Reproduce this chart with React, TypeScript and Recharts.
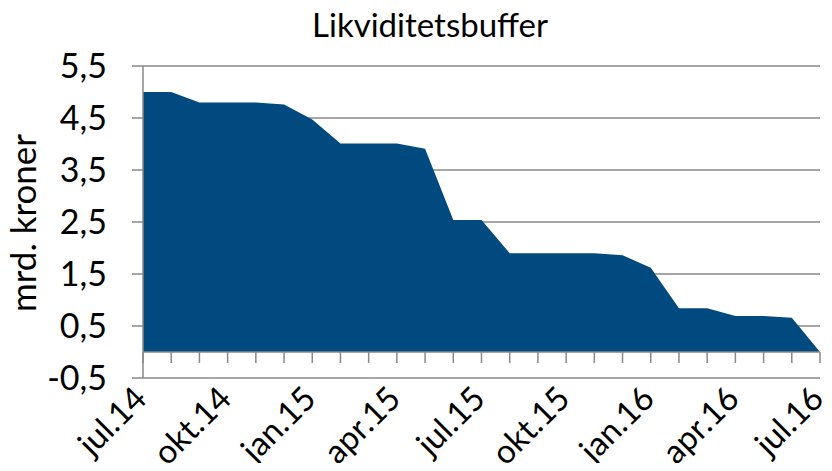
import React from "react";
import {
  AreaChart,
  Area,
  XAxis,
  YAxis,
  CartesianGrid,
  ReferenceLine,
} from "recharts";

const months = [
  "jul.14", "aug.14", "sep.14", "okt.14", "nov.14", "des.14",
  "jan.15", "feb.15", "mar.15", "apr.15", "mai.15", "jun.15",
  "jul.15", "aug.15", "sep.15", "okt.15", "nov.15", "des.15",
  "jan.16", "feb.16", "mar.16", "apr.16", "mai.16", "jun.16",
  "jul.16",
];

const buffer = [
  5.0, 5.0, 4.8, 4.8, 4.8, 4.76, 4.47, 4.01, 4.01, 4.01, 3.91, 2.54,
  2.54, 1.9, 1.9, 1.9, 1.9, 1.86, 1.62, 0.84, 0.84, 0.69, 0.69, 0.66, 0.0,
];

const yTicks = [-0.5, 0.5, 1.5, 2.5, 3.5, 4.5, 5.5];

const data = months.map((m, i) => ({ month: m, value: buffer[i] }));

const FONT = "Lato, 'Open Sans', sans-serif";
const GRID = "#898989";
const FILL = "#004a80";

function formatComma(v: number) {
  return String(v).replace(".", ",");
}

function MonthTick(props: any) {
  const { x, y, index, payload } = props;
  if (index % 3 !== 0) return null;
  return (
    <text
      x={x}
      y={y}
      dx={-12}
      dy={20}
      transform={`rotate(-45, ${x}, ${y})`}
      textAnchor="end"
      fontSize={33}
      fontFamily={FONT}
      fill="#000"
    >
      {payload.value}
    </text>
  );
}

export default function App() {
  return (
    <div style={{ position: "relative", width: 832, height: 471, margin: -8, background: "#fff" }}>
      <div
        style={{
          position: "absolute",
          left: 0,
          width: 860,
          top: 4,
          textAlign: "center",
          fontFamily: FONT,
          fontSize: 33,
          color: "#000",
        }}
      >
        Likviditetsbuffer
      </div>
      <div
        style={{
          position: "absolute",
          left: 22,
          top: 223,
          transform: "translate(-50%, -50%) rotate(-90deg)",
          whiteSpace: "nowrap",
          fontFamily: FONT,
          fontSize: 35,
          color: "#000",
        }}
      >
        mrd. kroner
      </div>
      <div style={{ position: "absolute", left: 0, top: 0 }}>
        <AreaChart
          width={832}
          height={471}
          data={data}
          margin={{ top: 66, right: 12, left: 0, bottom: 13 }}
        >
          <CartesianGrid vertical={false} stroke={GRID} strokeWidth={1.5} />
          <XAxis
            dataKey="month"
            interval={0}
            axisLine={false}
            tickLine={false}
            tickSize={0}
            tickMargin={0}
            height={80}
            tick={<MonthTick />}
            padding={{ left: 0, right: 0 }}
          />
          <YAxis
            domain={[-0.5, 5.5]}
            ticks={yTicks}
            interval={0}
            width={143}
            tickFormatter={formatComma}
            tick={{ fontSize: 34, fontFamily: FONT, fill: "#000" }}
            tickSize={11}
            tickMargin={25}
            axisLine={{ stroke: GRID, strokeWidth: 1.5 }}
            tickLine={{ stroke: GRID, strokeWidth: 1.5 }}
            allowDataOverflow
          />
          <Area
            type="linear"
            dataKey="value"
            stroke="none"
            fill={FILL}
            fillOpacity={1}
            isAnimationActive={false}
          />
          <ReferenceLine y={0} stroke={GRID} strokeWidth={1.5} />
          {months.map((m) => (
            <ReferenceLine
              key={m}
              segment={[
                { x: m, y: 0 },
                { x: m, y: -0.21 },
              ]}
              stroke={GRID}
              strokeWidth={1.5}
            />
          ))}
        </AreaChart>
      </div>
    </div>
  );
}
